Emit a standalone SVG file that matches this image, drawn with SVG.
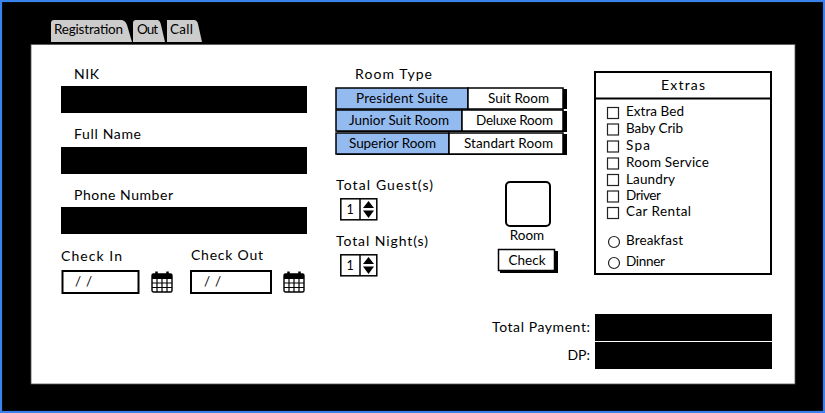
<svg xmlns="http://www.w3.org/2000/svg" width="825" height="413" viewBox="0 0 825 413">
<style>
text{font-family:"Lato","Liberation Sans",sans-serif;font-size:14px;fill:#000}
.m{text-anchor:middle}
.e{text-anchor:end}
.s{font-size:13.5px}
.o{fill:#fff;stroke:#000;stroke-width:2}
.b{fill:#000}
.t{fill:#ccc}
.blue{fill:#94bbf0;stroke:#000;stroke-width:1.5}
.w{fill:#fff;stroke:#000;stroke-width:1.5}
.c{fill:#fff;stroke:#222;stroke-width:1.2}
.l{fill:none;stroke:#000;stroke-width:1.2}
</style>
<defs>
<g id="cal">
<rect x="1" y="4" width="20" height="18" rx="1.5" fill="#fff" stroke="#000" stroke-width="1.4"/>
<rect x="1" y="4" width="20" height="5" fill="#000"/>
<path class="l" d="M1 13H21M1 17.500H21M6 9V22M11 9V22M16 9V22"/>
<path d="M5.500 1.500V6M16.500 1.500V6" stroke="#000" stroke-width="2.500" fill="none"/>
</g>
<g id="spin">
<rect class="w" x="0.800" y="0.800" width="36" height="21"/>
<line x1="20" y1="0.800" x2="20" y2="21.800" stroke="#000" stroke-width="1.5"/>
<path d="M23 10L28.500 3L34 10ZM23 12.500L28.500 20L34 12.500Z" fill="#000"/>
<text class="m" x="10" y="16" style="font-size:12.500px">1</text>
</g>
</defs>
<rect width="825" height="413" fill="#000"/>
<rect x="1" y="1" width="823" height="411" fill="none" stroke="#3a82ec" stroke-width="2.200"/>
<g id="tabs">
<path class="t" d="M51 42V23Q51 20 54 20H121Q125 20 127 25L132 42Z"/>
<path class="t" d="M133 42V23Q133 20 136 20H157Q160 20 161 25L165 42Z"/>
<path class="t" d="M167 42V20H194Q197 20 198 24L202 42Z"/>
<text class="s" x="54" y="34" textLength="69">Registration</text>
<text class="s" x="137" y="34" textLength="21">Out</text>
<text class="s" x="170" y="34" textLength="23">Call</text>
</g>
<rect id="panel" x="31" y="44.500" width="764" height="339.500" fill="#fff" stroke="#555" stroke-width="0.800"/>
<g id="nik"><text x="74" y="79" textLength="25">NIK</text><rect class="b" x="61" y="86" width="246" height="27"/></g>
<g id="fullname"><text x="74" y="139" textLength="67">Full Name</text><rect class="b" x="61" y="147" width="246" height="27"/></g>
<g id="phone"><text x="74" y="200" textLength="99">Phone Number</text><rect class="b" x="61" y="207" width="246" height="27"/></g>
<g id="checkin">
<text x="61" y="261" textLength="61">Check In</text>
<rect class="o" x="62.500" y="271" width="76" height="22"/>
<text x="75" y="286" class="s" textLength="17">/ /</text>
<use href="#cal" x="151" y="270"/>
</g>
<g id="checkout">
<text x="191" y="260" textLength="72">Check Out</text>
<rect class="o" x="191" y="271" width="80" height="22"/>
<text x="204" y="286" class="s" textLength="17">/ /</text>
<use href="#cal" x="283" y="270"/>
</g>
<g id="roomtype">
<text x="355" y="79" textLength="77">Room Type</text>
<rect x="337" y="89" width="230" height="20" fill="#000"/>
<rect x="337" y="111" width="230" height="21" fill="#000"/>
<rect x="337" y="134" width="230" height="21" fill="#000"/>
<rect class="blue" x="336" y="88" width="132" height="21"/>
<rect class="w" x="468" y="88" width="95" height="21"/>
<rect class="blue" x="336" y="110" width="126" height="21"/>
<rect class="w" x="462" y="110" width="101" height="21"/>
<rect class="blue" x="336" y="133" width="113" height="21"/>
<rect class="w" x="449" y="133" width="114" height="21"/>
<text class="s" x="356" y="103" textLength="92">President Suite</text>
<text class="s" x="488" y="103" textLength="61">Suit Room</text>
<text class="s" x="349" y="125" textLength="100">Junior Suit Room</text>
<text class="s" x="476" y="125" textLength="77">Deluxe Room</text>
<text class="s" x="349" y="148" textLength="87">Superior Room</text>
<text class="s" x="464" y="148" textLength="89">Standart Room</text>
</g>
<g id="guests"><text x="336" y="190" textLength="97">Total Guest(s)</text><use href="#spin" x="340" y="198"/></g>
<g id="nights"><text x="336" y="246" textLength="92">Total Night(s)</text><use href="#spin" x="340" y="254"/></g>
<g id="room">
<rect class="o" x="506" y="182" width="44" height="44" rx="4"/>
<text class="m s" x="527" y="240">Room</text>
</g>
<g id="check">
<rect x="500" y="251" width="58" height="22" fill="#000"/>
<rect class="w" x="498.500" y="249.500" width="56" height="21"/>
<text class="m s" x="527" y="265">Check</text>
</g>
<g id="extras">
<rect class="o" x="595" y="72" width="176" height="202"/>
<line x1="595" y1="98.500" x2="771" y2="98.500" stroke="#000" stroke-width="2"/>
<text x="661" y="90" textLength="44">Extras</text>
<rect class="c" x="607.500" y="107.500" width="11" height="11"/><text class="s" x="626" y="116" textLength="58">Extra Bed</text>
<rect class="c" x="607.500" y="124" width="11" height="11"/><text class="s" x="626" y="133" textLength="57">Baby Crib</text>
<rect class="c" x="607.500" y="141" width="11" height="11"/><text class="s" x="626" y="150" textLength="24">Spa</text>
<rect class="c" x="607.500" y="158" width="11" height="11"/><text class="s" x="626" y="167" textLength="83">Room Service</text>
<rect class="c" x="607.500" y="174.500" width="11" height="11"/><text class="s" x="626" y="184" textLength="49">Laundry</text>
<rect class="c" x="607.500" y="191" width="11" height="11"/><text class="s" x="626" y="200" textLength="35">Driver</text>
<rect class="c" x="607.500" y="207.500" width="11" height="11"/><text class="s" x="626" y="216" textLength="65">Car Rental</text>
<circle class="c" cx="614" cy="242" r="5.500"/><text class="s" x="626" y="245" textLength="57">Breakfast</text>
<circle class="c" cx="614" cy="263" r="5.500"/><text class="s" x="626" y="266" textLength="39">Dinner</text>
</g>
<g id="total"><text x="492" y="332" textLength="98">Total Payment:</text><rect class="b" x="595" y="314" width="177" height="27"/></g>
<g id="dp"><text class="e" x="590" y="360">DP:</text><rect class="b" x="595" y="342" width="177" height="27"/></g>
<g id="connectors"/>
</svg>
